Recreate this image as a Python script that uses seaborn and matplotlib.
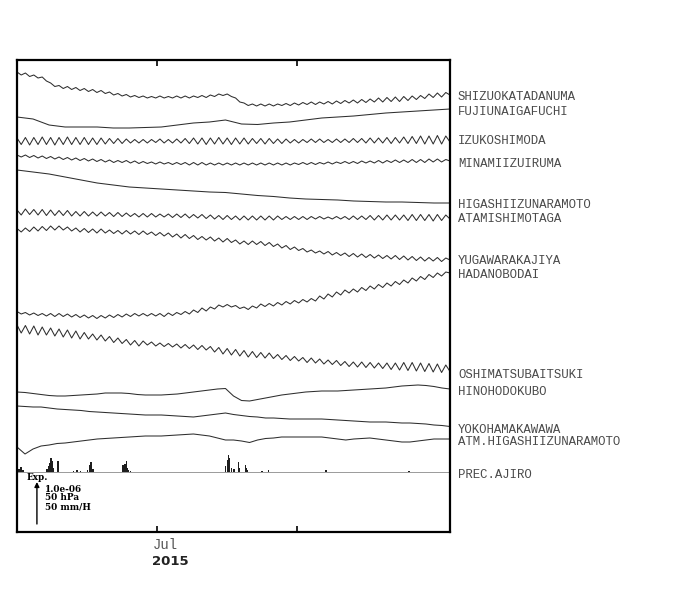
import numpy as np
import pandas as pd
import matplotlib.pyplot as plt
import seaborn as sns

# record window
START = pd.Timestamp('2015-05-31')
END = pd.Timestamp('2015-09-04')

# strain traces in 1e-8 (arbitrary zero)
shizuokatadanuma = [
    46, 40, 44, 37, 40, 34, 36, 28, 24, 17,
    19, 13, 17, 11, 15, 9, 13, 7, 11, 5,
    9, 3, 6, 0, 3, -2, 1, -4, -1, -5,
    -2, -6, -3, -6, -2, -6, -3, -6, -2, -6,
    -2, -6, -2, -5, -1, -5, 0, -3, 2, -1,
    2, -3, -6, -14, -16, -21, -18, -22, -18, -22,
    -18, -22, -18, -21, -17, -21, -16, -20, -15, -19,
    -14, -19, -14, -18, -13, -18, -12, -17, -11, -16,
    -10, -16, -9, -15, -8, -14, -6, -14, -5, -13,
    -4, -13, -3, -11, -2, -9, -1, -7, 2, -5,
    4, -4, 5, 0]
fujiunaigafuchi = [
    -16, -20, -32, -36, -36, -36, -38, -38, -37, -36,
    -32, -28, -26, -22, -30, -31, -28, -26, -22, -18,
    -16, -14, -11, -8, -6, -4, -2, 0]
izukoshimoda = [
    6, -7, 7, -8, 7, -7, 8, -7, 7, -8,
    7, -7, 8, -7, 7, -7, 7, -7, 6, -7,
    6, -6, 5, -5, 5, -5, 4, -4, 3, -4,
    3, -4, 3, -3, 4, -4, 3, -4, 4, -4,
    5, -5, 6, -6, 6, -7, 6, -6, 7, -6,
    6, -7, 6, -6, 6, -6, 5, -5, 5, -6,
    5, -5, 4, -5, 4, -4, 3, -4, 3, -3,
    4, -3, 4, -3, 3, -3, 4, -3, 4, -3,
    5, -3, 5, -4, 6, -4, 6, -4, 7, -5,
    7, -4, 8, -5, 9, -5, 10, -6, 10, -6,
    11, -6, 10, -2]
minamiizuiruma = [
    12, 8, 12, 7, 11, 6, 10, 5, 9, 4,
    8, 3, 7, 2, 6, 1, 5, 0, 4, -1,
    3, -2, 2, -3, 1, -3, 1, -4, 0, -5,
    -1, -5, -2, -6, -2, -6, -3, -7, -3, -7,
    -3, -8, -3, -8, -3, -8, -4, -8, -4, -8,
    -4, -8, -4, -8, -4, -8, -4, -8, -4, -8,
    -4, -8, -4, -8, -4, -8, -4, -7, -3, -7,
    -3, -7, -3, -6, -2, -6, -2, -5, -1, -5,
    -1, -5, 0, -4, 0, -4, 1, -4, 1, -3,
    2, -3, 2, -3, 3, -3, 3, -3, 4, -2,
    4, -2, 3, 0]
higashiizunaramoto = [
    66, 62, 58, 52, 46, 40, 36, 32, 30, 28,
    26, 24, 22, 21, 18, 15, 13, 10, 8, 7,
    6, 4, 3, 2, 2, 1, 0, 0]
atamishimotaga = [
    16, 6, 18, 7, 17, 6, 17, 5, 16, 5,
    15, 5, 15, 4, 13, 4, 13, 4, 12, 4,
    12, 4, 11, 3, 11, 3, 10, 3, 9, 2,
    9, 2, 9, 2, 8, 2, 8, 1, 8, 1,
    8, 0, 7, 0, 7, -1, 6, -2, 5, -3,
    5, -3, 4, -4, 4, -4, 4, -4, 4, -4,
    4, -4, 4, -3, 3, -3, 3, -3, 3, -3,
    3, -2, 3, -2, 2, -2, 3, -2, 3, -3,
    4, -3, 4, -3, 5, -4, 5, -4, 6, -4,
    6, -4, 6, -5, 7, -5, 7, -5, 7, -6,
    7, -5, 6, -2]
yugawarakajiya = [
    63, 56, 64, 57, 66, 58, 67, 59, 68, 60,
    68, 60, 66, 58, 64, 56, 63, 55, 62, 54,
    62, 54, 60, 53, 59, 52, 59, 52, 58, 51,
    58, 51, 56, 49, 55, 48, 54, 46, 52, 44,
    51, 43, 49, 41, 47, 40, 46, 38, 44, 36,
    43, 35, 40, 32, 38, 31, 38, 31, 37, 29,
    35, 27, 32, 24, 29, 21, 26, 19, 23, 16,
    20, 14, 18, 12, 17, 10, 15, 9, 14, 7,
    13, 6, 12, 5, 11, 4, 10, 3, 9, 2,
    9, 1, 8, 0, 7, -1, 6, -2, 5, -2,
    5, -3, 4, 0]
hadanobodai = [
    -77, -82, -79, -84, -80, -85, -81, -86, -81, -87,
    -81, -87, -82, -88, -83, -89, -84, -90, -85, -91,
    -85, -90, -84, -89, -83, -88, -82, -87, -81, -86,
    -81, -86, -81, -86, -81, -87, -80, -85, -79, -83,
    -77, -82, -74, -79, -70, -76, -68, -72, -64, -68,
    -63, -68, -65, -71, -68, -73, -66, -70, -62, -67,
    -61, -66, -59, -64, -57, -62, -55, -60, -53, -58,
    -51, -56, -46, -52, -42, -48, -38, -44, -34, -40,
    -32, -38, -29, -35, -26, -32, -23, -29, -20, -26,
    -17, -23, -14, -20, -10, -16, -7, -13, -3, -9,
    0, -6, 2, 0]
oshimatsubaitsuki = [
    90, 74, 89, 72, 88, 70, 86, 70, 84, 68,
    82, 66, 80, 64, 78, 62, 75, 62, 72, 60,
    70, 58, 67, 55, 64, 53, 61, 50, 59, 48,
    58, 50, 56, 48, 54, 47, 53, 46, 52, 44,
    51, 43, 50, 41, 49, 40, 47, 36, 45, 32,
    43, 30, 41, 28, 39, 26, 37, 25, 35, 24,
    34, 23, 31, 21, 29, 19, 27, 18, 25, 15,
    24, 14, 22, 12, 20, 11, 19, 9, 17, 7,
    16, 6, 16, 5, 15, 4, 14, 3, 14, 1,
    14, 0, 15, -1, 15, -2, 14, -3, 13, -4,
    12, -5, 10, -3]
hinohodokubo = [
    -6, -7, -9, -11, -13, -14, -14, -13, -12, -11,
    -10, -8, -8, -8, -9, -11, -12, -12, -12, -11,
    -10, -8, -6, -4, -2, 0, 1, -14, -23, -24,
    -21, -18, -15, -12, -10, -8, -6, -5, -4, -4,
    -4, -3, -2, -1, 0, 1, 2, 4, 6, 7,
    8, 7, 5, 2, 0]
yokohamakawawa = [
    40, 39, 38, 38, 36, 34, 33, 32, 31, 29,
    28, 27, 26, 25, 24, 23, 22, 22, 22, 21,
    20, 19, 18, 20, 22, 24, 26, 23, 21, 19,
    18, 16, 16, 15, 14, 14, 14, 14, 14, 13,
    12, 11, 10, 9, 8, 8, 8, 7, 6, 6,
    5, 4, 2, 1, -1]
# barometric pressure, hPa
atm_higashiizunaramoto = [
    -8, -15, -10, -7, -6, -4.5, -4, -3, -2, -1,
    0, 0.5, 1, 1.5, 2, 2.5, 3, 3, 3, 3.5,
    4, 4.5, 5, 4, 3, 1, -1, -1, -2, -3.5,
    -1, 0.5, 1, 2, 2, 2, 2, 2, 2, 1,
    0, -1, 0, 0.5, 1, 0, -1, -2, -3, -3,
    -2, -1, 0, 0, 0]
# precipitation at Ajiro: days since start, mm/H
prec_day = [0.44, 0.89, 1.33, 6.65, 7.10, 7.32, 7.54, 7.76, 7.98, 9.09,
            12.6, 13.3, 14.0, 15.7, 16.2, 16.4, 16.6, 16.85, 23.3, 23.5,
            23.7, 23.95, 24.2, 24.4, 24.6, 25.1, 46.3, 46.6, 46.8, 47.0,
            47.2, 47.5, 48.1, 49.2, 49.4, 50.6, 50.8, 51.0, 54.3, 55.7,
            68.5, 86.9]
prec_mmh = [3, 5, 2, 3, 6, 9, 14, 11, 4, 11,
            1, 2, 1, 2, 7, 10, 8, 3, 3, 7,
            5, 8, 11, 4, 2, 1, 6, 12, 17, 14,
            8, 4, 3, 10, 4, 7, 4, 2, 1, 2,
            2, 1]

names = ['SHIZUOKATADANUMA', 'FUJIUNAIGAFUCHI', 'IZUKOSHIMODA', 'MINAMIIZUIRUMA',
         'HIGASHIIZUNARAMOTO', 'ATAMISHIMOTAGA', 'YUGAWARAKAJIYA', 'HADANOBODAI',
         'OSHIMATSUBAITSUKI', 'HINOHODOKUBO', 'YOKOHAMAKAWAWA', 'ATM.HIGASHIIZUNARAMOTO']
series = [shizuokatadanuma, fujiunaigafuchi, izukoshimoda, minamiizuiruma,
          higashiizunaramoto, atamishimotaga, yugawarakajiya, hadanobodai,
          oshimatsubaitsuki, hinohodokubo, yokohamakawawa, atm_higashiizunaramoto]
# plot units per data unit: 1e-06 = 50 hPa = 50 mm/H = 100 units
gain = [1] * 11 + [2]

# layout: trace baselines and label heights in plot units (0..944)
offsets = [874, 846, 782, 742, 658, 628, 544, 518, 324, 286, 212, 186]
label_y = [870, 840, 782, 736, 654, 626, 542, 514, 314, 280, 204, 180]
PREC_BASE = 120
PREC_LABEL_Y = 114

LINE = '#2e2e2e'

sns.set_theme(style='white')
plt.rcParams['font.family'] = ['DejaVu Sans']

fig = plt.figure(figsize=(7.0, 5.9), dpi=100)
ax = fig.add_axes([17 / 700, 1 - 532 / 590, 433 / 700, 472 / 590])

for name, vals, g, off in zip(names, series, gain, offsets):
    t = pd.date_range(START, END, periods=len(vals))
    y = off + g * np.asarray(vals, dtype=float)
    sns.lineplot(x=t, y=y, ax=ax, color=LINE, linewidth=0.75, estimator=None)
for ln in ax.lines:
    ln.set_solid_joinstyle('round')

# precipitation
ax.axhline(PREC_BASE, color='#8a8a8a', linewidth=0.6)
pt = START + pd.to_timedelta(prec_day, unit='D')
ax.bar(pt, 2 * np.asarray(prec_mmh, dtype=float), width=0.26, bottom=PREC_BASE,
       color='#1e1e1e', linewidth=0)

ax.set_xlim(START, END)
ax.set_ylim(0, 944)
ax.set_yticks([])
jul, aug = pd.Timestamp('2015-07-01'), pd.Timestamp('2015-08-01')
ax.set_xticks([jul, aug])
ax.set_xticklabels([])
ax.tick_params(axis='x', direction='in', length=4, width=1.2, color='black',
               top=True, bottom=True)
ax.set_xlabel('')
ax.set_ylabel('')
for s in ax.spines.values():
    s.set_visible(True)
    s.set_color('black')
    s.set_linewidth(1.6)

# station labels on the right
mono = ['Liberation Mono', 'DejaVu Sans Mono']
yt = ax.get_yaxis_transform()
for name, ly in zip(names, label_y):
    ax.text(1.0185, ly, name, transform=yt, ha='left', va='center',
            fontsize=8.9, family=mono, color='#4a4a4a')
ax.text(1.0185, PREC_LABEL_Y, 'PREC.AJIRO', transform=yt, ha='left', va='center',
        fontsize=8.9, family=mono, color='#4a4a4a')

# time axis labels
xt = ax.get_xaxis_transform()
ax.text(jul + pd.Timedelta(days=2), -0.028, 'Jul', transform=xt, ha='center', va='center',
        fontsize=10, family=mono, color='#555555')
ax.text(jul + pd.Timedelta(days=3), -0.062, '2015', transform=xt, ha='center', va='center',
        fontsize=9.5, fontweight='bold', family=['DejaVu Sans'], color='#222222')

# scale legend
serif = dict(family=['DejaVu Serif'], fontweight='bold', fontsize=6.4, color='black')
ax.text(0.022, 109, 'Exp.', transform=yt, ha='left', va='center', **serif)
for k, txt in enumerate(['1.0e-06', '50 hPa', '50 mm/H']):
    ax.text(0.064, 85 - 17 * k, txt, transform=yt, ha='left', va='center', **serif)
ax.annotate('', xy=(0.046, 100), xytext=(0.046, 16), xycoords=yt, textcoords=yt,
            arrowprops=dict(arrowstyle='-|>', color='black', lw=1.0,
                            mutation_scale=7, shrinkA=0, shrinkB=0))

fig.savefig('out.png', dpi=100, facecolor='white')
